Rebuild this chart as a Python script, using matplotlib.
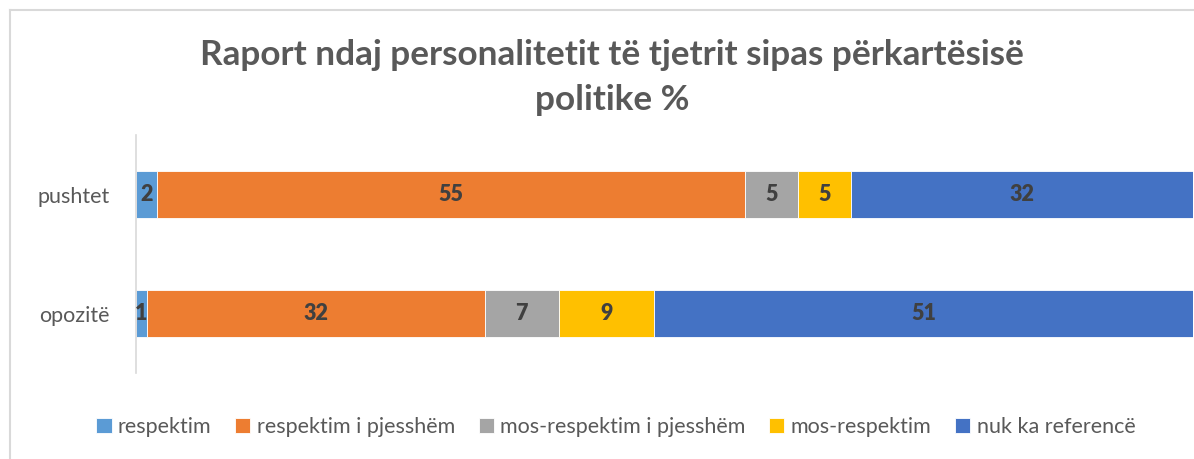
import matplotlib
matplotlib.use('Agg')
import matplotlib.pyplot as plt
from matplotlib.lines import Line2D
import numpy as np

plt.rcParams['font.family'] = ['Lato', 'DejaVu Sans']

# data
kategorite = ['opozitë', 'pushtet']
seri = ['respektim', 'respektim i pjesshëm', 'mos-respektim i pjesshëm',
        'mos-respektim', 'nuk ka referencë']
vlerat = {
    'opozitë': [1, 32, 7, 9, 51],
    'pushtet': [2, 55, 5, 5, 32],
}
ngjyrat = ['#5B9BD5', '#ED7D31', '#A5A5A5', '#FFC000', '#4472C4']

W, H = 1194, 459
fig = plt.figure(figsize=(W / 100, H / 100), dpi=100)
ax = fig.add_axes([136 / W, 1 - 373 / H, (1193 - 136) / W, (373 - 135) / H])

y = np.arange(len(kategorite))
# 100% stacked: normalizo sipas shumes se rreshtit
tabela = np.array([vlerat[k] for k in kategorite], dtype=float)
perq = tabela / tabela.sum(axis=1, keepdims=True) * 100
majtas = np.zeros(len(kategorite))
for i, emri in enumerate(seri):
    barat = ax.barh(y, perq[:, i], left=majtas, height=0.4, color=ngjyrat[i],
                    edgecolor='white', linewidth=0.6, label=emri)
    for j, b in enumerate(barat):
        ax.text(b.get_x() + b.get_width() / 2, b.get_y() + b.get_height() / 2,
                f'{int(tabela[j, i])}', ha='center', va='center',
                fontsize=15.5, fontweight='heavy', color='#404040')
    majtas += perq[:, i]

ax.set_xlim(0, 100)
ax.set_ylim(-0.5, 1.5)
ax.set_yticks(y)
ax.set_yticklabels(kategorite, fontsize=15.5, color='#595959')
ax.tick_params(axis='y', length=0, pad=19)
ax.set_xticks([])
for s in ['top', 'right', 'bottom']:
    ax.spines[s].set_visible(False)
ax.spines['left'].set_color('#D9D9D9')
ax.spines['left'].set_linewidth(1.2)

# titulli
fig.text(612 / W, 1 - 55 / H, 'Raport ndaj personalitetit të tjetrit sipas përkartësisë',
         ha='center', va='center', fontsize=25.3, fontweight='bold', color='#595959')
fig.text(612 / W, 1 - 100 / H, 'politike %',
         ha='center', va='center', fontsize=25.3, fontweight='bold', color='#595959')

# legjenda
fig.legend(loc='center', bbox_to_anchor=(616 / W, 1 - 427 / H), ncol=5,
           frameon=False, fontsize=15.5, handlelength=0.7, handleheight=0.7,
           handletextpad=0.3, columnspacing=1.1, labelcolor='#595959')

# korniza e grafikut (e prere djathtas dhe poshte)
fig.add_artist(Line2D([10 / W, 10 / W], [0, 1 - 10 / H], transform=fig.transFigure,
                      color='#D9D9D9', linewidth=1.5))
fig.add_artist(Line2D([10 / W, 1], [1 - 10 / H, 1 - 10 / H], transform=fig.transFigure,
                      color='#D9D9D9', linewidth=1.5))

fig.savefig('out.png', dpi=100)
